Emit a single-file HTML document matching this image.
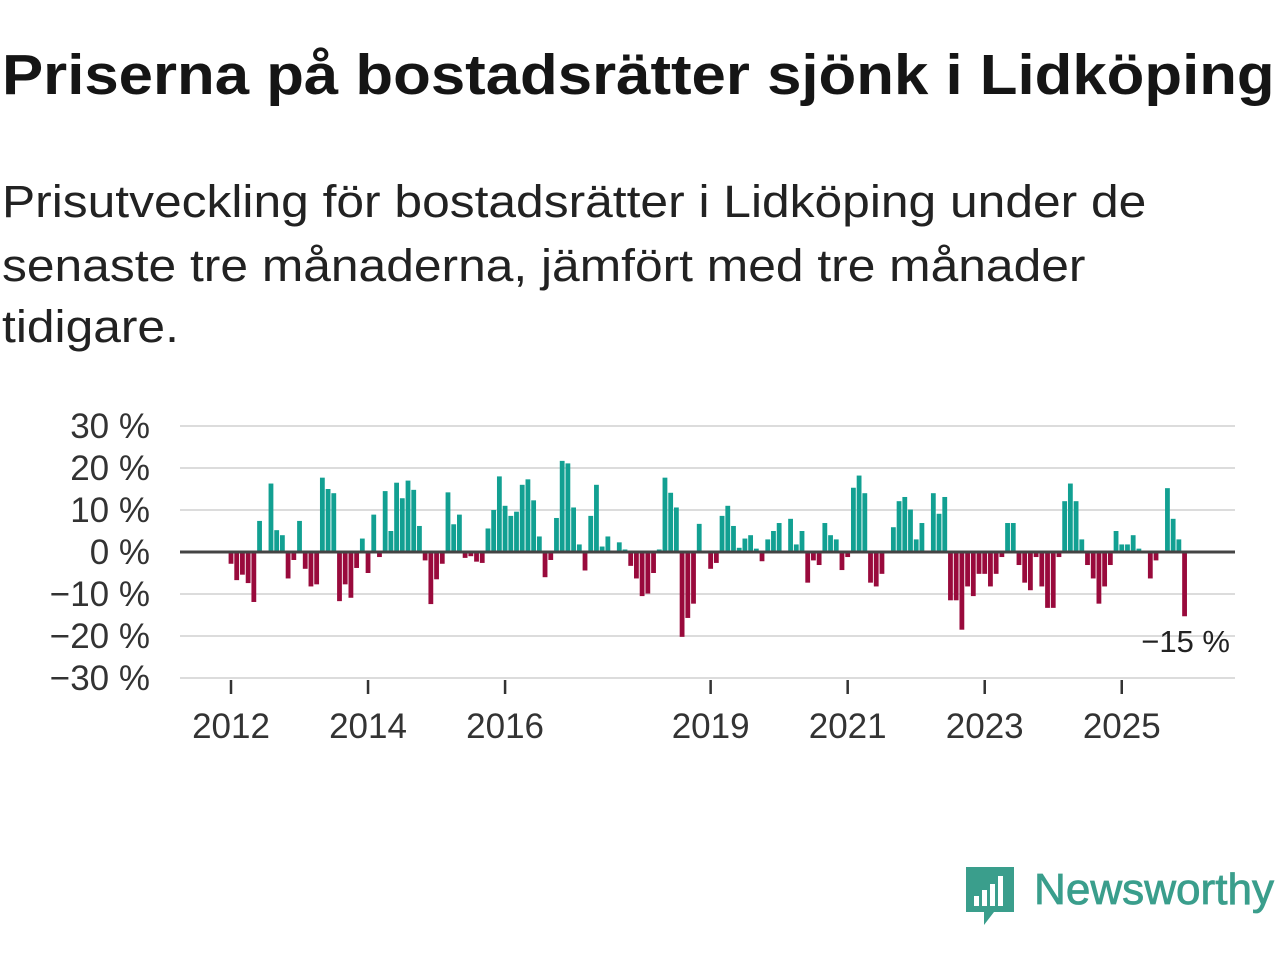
<!DOCTYPE html>
<html><head><meta charset="utf-8"><style>
body{margin:0;width:1280px;height:960px;background:#fff;font-family:"Liberation Sans",sans-serif;overflow:hidden;position:relative;color:#111}
h1{position:absolute;left:2px;top:42px;margin:0;font-size:57px;font-weight:bold;white-space:nowrap;color:#151515;transform-origin:0 0;transform:scaleX(1.083)}
.sub{position:absolute;left:2px;margin:0;font-size:45px;white-space:nowrap;color:#222;transform-origin:0 0;transform:scaleX(1.105)}
svg{position:absolute;left:0;top:0}
</style></head><body>
<h1>Priserna på bostadsrätter sjönk i Lidköping</h1>
<div>
<div class="sub" style="top:176px">Prisutveckling för bostadsrätter i Lidköping under de</div>
<div class="sub" style="top:240px">senaste tre månaderna, jämfört med tre månader</div>
<div class="sub" style="top:301px">tidigare.</div>
</div>
<svg id="chart" width="1280" height="960"></svg>
<script>
const startYear = 2012;
const values = [-2.8,-6.7,-5.4,-7.4,-11.9,7.4,0,16.3,5.2,4,-6.3,-1.9,
7.4,-4,-8.2,-7.7,17.7,15,14,-11.7,-7.7,-10.9,-3.8,3.2,
-5,8.9,-1.2,14.5,5,16.5,12.8,17,14.8,6.2,-2,-12.4,
-6.5,-2.8,14.2,6.6,8.9,-1.4,-1,-2.3,-2.6,5.6,10,18,
11,8.6,9.6,16,17.3,12.3,3.7,-6,-1.9,8.1,21.7,21.1,
10.6,1.8,-4.4,8.6,16,1.3,3.7,0,2.3,0.6,-3.3,-6.3,
-10.5,-9.9,-5,0.6,17.7,14.1,10.6,-20.2,-15.7,-12.3,6.7,0,
-4,-2.6,8.6,11,6.2,1,3.2,4,0.8,-2.2,3,5,
6.9,0,7.9,1.8,5,-7.3,-2,-3.1,6.9,4,3,-4.3,
-1.2,15.3,18.2,14,-7.3,-8.2,-5.2,0,5.9,12.1,13.1,10.1,
3,6.9,0,14,9.1,13.1,-11.5,-11.5,-18.5,-8.2,-10.5,-5.2,
-5.2,-8.2,-5.2,-1.2,6.9,6.9,-3.1,-7.3,-9.1,-1.2,-8.2,-13.3,
-13.3,-1.2,12.1,16.3,12.1,3,-3.1,-6.3,-12.3,-8.2,-3.1,5,
1.8,1.8,4,0.8,0,-6.3,-2,0,15.2,7.9,3,-15.3];
const yTicks = [30,20,10,0,-10,-20,-30];
const xTickYears = [2012,2014,2016,2019,2021,2023,2025];
const lastLabel = "−15 %";

const NS="http://www.w3.org/2000/svg";
const svg=document.getElementById('chart');
const X0=180,X1=1235;
function y(v){return 552-v*4.2;}
function xm(i){return 231+i*5.71;}
function xYear(yr){return xm((yr-startYear)*12);}
function mk(t,a){const e=document.createElementNS(NS,t);for(const k in a)e.setAttribute(k,a[k]);svg.appendChild(e);return e;}
yTicks.forEach(t=>{
  if(t!==0){const g=mk('line',{x1:X0,x2:X1,y1:y(t),y2:y(t),stroke:'#dcdcdc','stroke-width':2});
  
  }
  const l=mk('text',{x:150,y:y(t)+12,'text-anchor':'end','font-size':35,fill:'#333','font-family':'Liberation Sans, sans-serif'});
  l.textContent=(t<0?'−'+(-t):t)+' %';
  
  
});
values.forEach((v,i)=>{
  if(v===0)return;
  const r=mk('rect',{x:xm(i)-2.4,width:4.8,y:Math.min(y(v),y(0)),height:Math.abs(y(v)-y(0)),fill:v>0?'#12a092':'#990a3c'});
  
  
});
const z=mk('line',{x1:X0,x2:X1,y1:y(0),y2:y(0),stroke:'#444','stroke-width':3});


xTickYears.forEach(yr=>{
  const x=xYear(yr);
  const tk=mk('line',{x1:x,x2:x,y1:680,y2:694,stroke:'#333','stroke-width':2.5});
  
  
  const l=mk('text',{x:x,y:738,'text-anchor':'middle','font-size':35,fill:'#333','font-family':'Liberation Sans, sans-serif'});
  l.textContent=yr;
  
  
});
const ll=mk('text',{x:1230,y:652,'text-anchor':'end','font-size':31,fill:'#222','font-family':'Liberation Sans, sans-serif'});
ll.textContent=lastLabel;


</script>
<svg width="320" height="70" style="left:962px;top:862px">
<path d="M4 5 H52 V50 H32 L22 63 V50 H4 Z" fill="#3a9e8c"/>
<rect x="12" y="34" width="5" height="10" fill="#fff"/><rect x="20" y="28" width="5" height="16" fill="#fff"/><rect x="28" y="22" width="5" height="22" fill="#fff"/><rect x="36" y="14" width="5" height="30" fill="#fff"/>
<text x="72" y="42" font-size="44" font-family="Liberation Sans, sans-serif" fill="#3a9e8c" stroke="#3a9e8c" stroke-width="0.8" textLength="240" lengthAdjust="spacingAndGlyphs">Newsworthy</text>
</svg>
</body></html>
